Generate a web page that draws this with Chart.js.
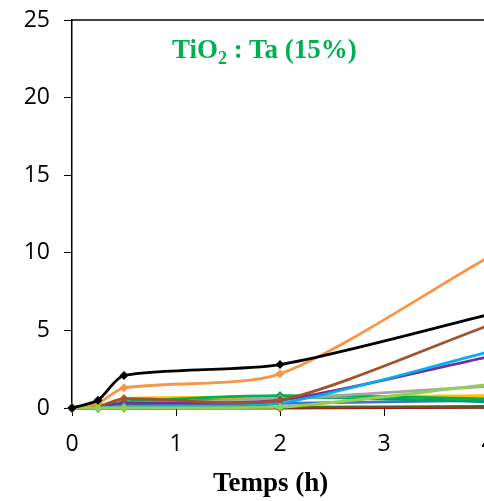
<!DOCTYPE html>
<html>
<head>
<meta charset="utf-8">
<script src="https://cdn.jsdelivr.net/npm/chart.js@4/dist/chart.umd.min.js"></script>
<style>
  html, body { margin: 0; padding: 0; background: #fff; overflow: hidden; }
  #wrap { position: relative; width: 500px; height: 501px; }
  .txt { position: absolute; font-family: "Liberation Serif", serif; font-weight: bold; white-space: nowrap; }
  #label { left: 172px; top: 34px; font-size: 27px; color: #00B050; }
  #label sub { font-size: 18px; vertical-align: -6px; line-height: 0; }
  #xtitle { left: 213px; top: 467px; font-size: 27px; color: #000; }
</style>
</head>
<body>
<div id="wrap">
  <canvas id="c" width="500" height="501"></canvas>
  <div id="label" class="txt">TiO<sub>2</sub> : Ta (15%)</div>
  <div id="xtitle" class="txt">Temps (h)</div>
</div>
<script>
// sampling times (h)
const times = [0, 0.25, 0.5, 2, 4];

// series values
const sBlack  = [0, 0.5, 2.1, 2.8, 6.0];
const sOrange = [0, 0.3, 1.3, 2.2, 9.7];
const sBrown  = [0, 0.1, 0.6, 0.5, 5.3];
const sCyan   = [0, 0.0, 0.1, 0.3, 3.6];
const sPurple = [0, 0.1, 0.3, 0.5, 3.3];
const sLime   = [0, 0.0, 0.0, 0.05, 1.5];
const sGray   = [0, 0.1, 0.3, 0.6, 1.4];
const sYellow = [0, 0.1, 0.6, 0.7, 0.8];
const sGreen  = [0, 0.1, 0.4, 0.8, 0.6];
const sTeal   = [0, 0.0, 0.2, 0.7, 0.4];
const sBlue   = [0, 0.0, 0.2, 0.3, 0.5];
const sOlive  = [0, 0.0, 0.0, 0.05, 0.1];
const sRed    = [0, 0.0, 0.0, 0.0, 0.05];

const yTicks = [0, 5, 10, 15, 20, 25];

function series(vals, color, order) {
    return {
        data: times.map((t, i) => ({ x: t, y: vals[i] })),
        borderColor: color,
        backgroundColor: color,
        borderWidth: 2.8,
        pointStyle: "rectRot",
        pointRadius: 2.5,
        tension: 0.25,
        order: order
    };
}

const topLine = {
    id: "topLine",
    afterDraw(chart) {
        const a = chart.chartArea, ctx = chart.ctx;
        ctx.save();
        ctx.strokeStyle = "#000";
        ctx.lineWidth = 1.5;
        ctx.beginPath();
        ctx.moveTo(a.left, a.top);
        ctx.lineTo(a.right + 20, a.top);
        ctx.stroke();
        ctx.restore();
    }
};

new Chart(document.getElementById("c"), {
    type: "line",
    data: {
        datasets: [
            series(sBlack, "#000000", 1),
            series(sLime, "#92D050", 2),
            series(sOrange, "#F79646", 3),
            series(sBrown, "#A0522D", 4),
            series(sCyan, "#00B0F0", 5),
            series(sPurple, "#7030A0", 6),
            series(sGray, "#A5A5A5", 7),
            series(sGreen, "#00B050", 8),
            series(sYellow, "#FFC000", 9),
            series(sTeal, "#00A06A", 10),
            series(sBlue, "#4472C4", 11),
            series(sOlive, "#4F6228", 12),
            series(sRed, "#C00000", 13)
        ]
    },
    options: {
        responsive: false,
        animation: false,
        clip: false,
        layout: { autoPadding: false, padding: { top: 20, right: 12, left: 0, bottom: 0 } },
        plugins: { legend: { display: false }, tooltip: { enabled: false } },
        scales: {
            x: {
                type: "linear", min: 0, max: 4,
                ticks: { stepSize: 1, color: "#000", font: { family: "Open Sans", size: 23 }, padding: 15 },
                grid: { drawOnChartArea: false, tickLength: 8, color: "#000" },
                border: { color: "#000", width: 1.5 },
                afterFit(s) { s.height = 93; s.paddingLeft = 0; s.paddingRight = 0; }
            },
            y: {
                min: 0, max: 25,
                afterBuildTicks(s) { s.ticks = yTicks.map(v => ({ value: v })); },
                ticks: { color: "#000", font: { family: "Open Sans", size: 23 }, padding: 14 },
                grid: { drawOnChartArea: false, tickLength: 8, color: "#000" },
                border: { color: "#000", width: 1.5 },
                afterFit(s) { s.width = 72; s.paddingTop = 0; s.paddingBottom = 0; }
            }
        }
    },
    plugins: [topLine]
});
</script>
</body>
</html>
